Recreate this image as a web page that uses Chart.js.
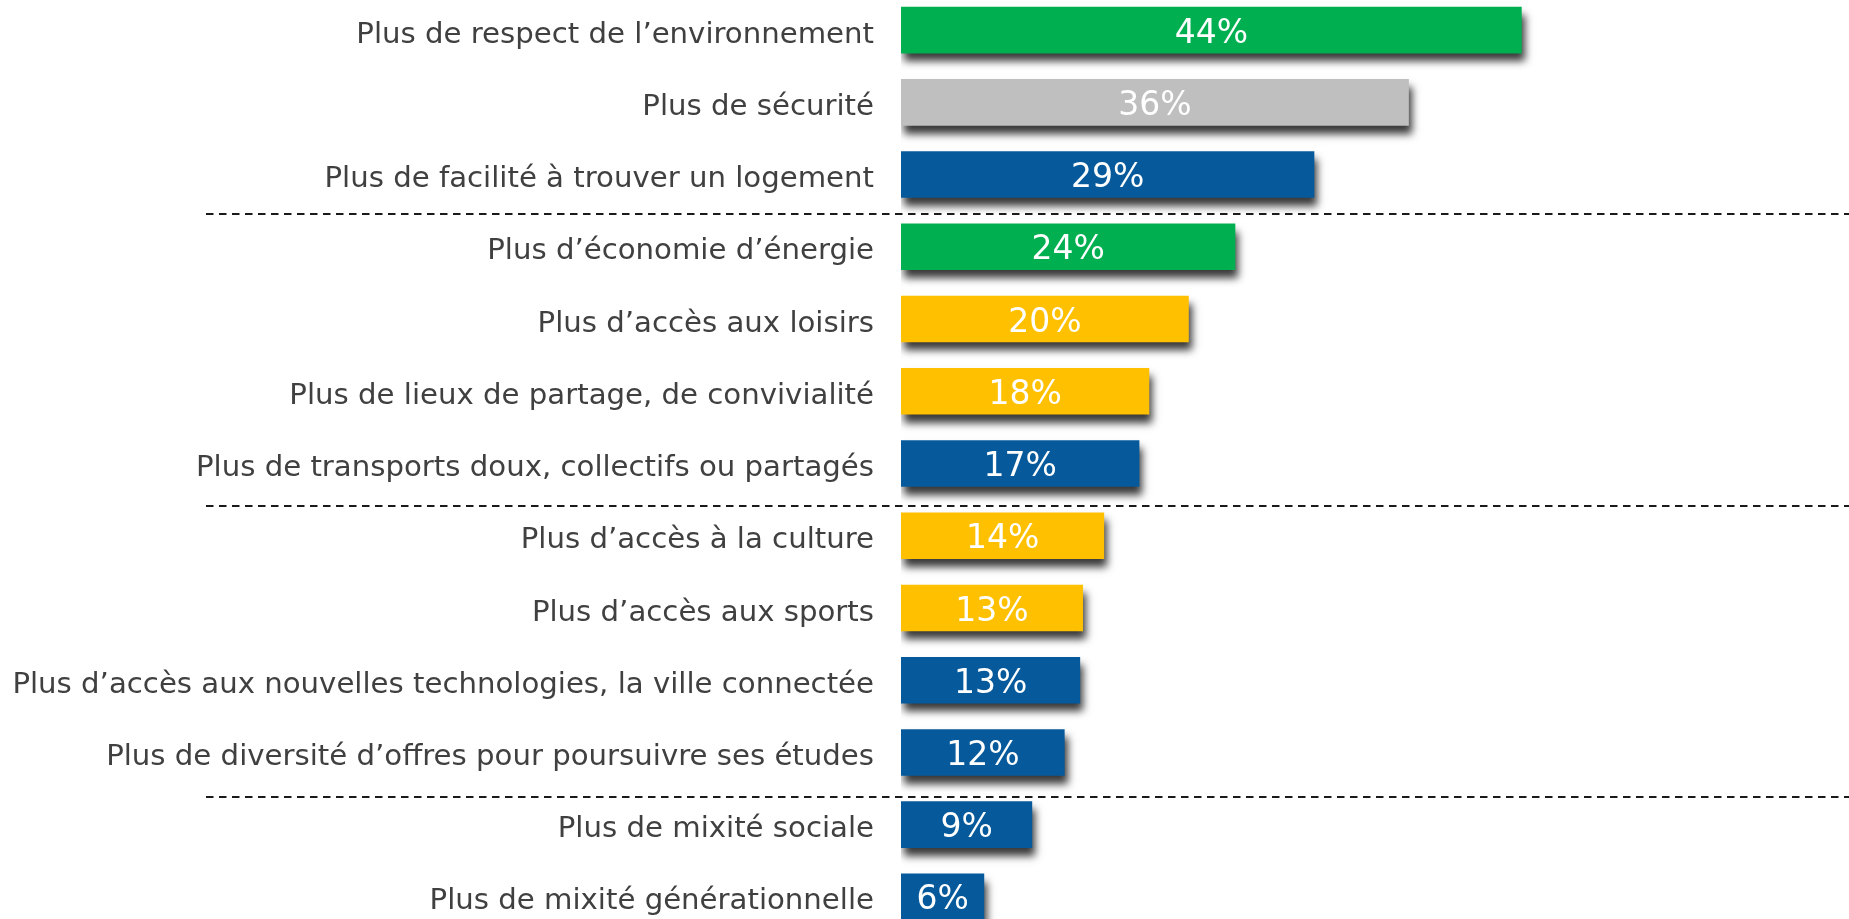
<!DOCTYPE html>
<html lang="fr">
<head>
<meta charset="utf-8">
<title>Attentes</title>
<script src="https://cdn.jsdelivr.net/npm/chart.js@4.4.1/dist/chart.umd.min.js"></script>
<style>
  html, body { margin: 0; padding: 0; background: #ffffff; overflow: hidden; width: 1849px; height: 919px; }
  #wrap { position: absolute; left: 0; top: -6px; width: 1849px; height: 939px; }
</style>
</head>
<body>
<div id="wrap"><canvas id="chart"></canvas></div>
<script>
const categories = [
  "Plus de respect de l\u2019environnement",
  "Plus de sécurité",
  "Plus de facilité à trouver un logement",
  "Plus d\u2019économie d\u2019énergie",
  "Plus d\u2019accès aux loisirs",
  "Plus de lieux de partage, de convivialité",
  "Plus de transports doux, collectifs ou partagés",
  "Plus d\u2019accès à la culture",
  "Plus d\u2019accès aux sports",
  "Plus d\u2019accès aux nouvelles technologies, la ville connectée",
  "Plus de diversité d\u2019offres pour poursuivre ses études",
  "Plus de mixité sociale",
  "Plus de mixité générationnelle"
];
const values = [44.0, 36.0, 29.3, 23.7, 20.4, 17.6, 16.9, 14.4, 12.9, 12.7, 11.6, 9.3, 5.9];
const valueLabels = ["44%", "36%", "29%", "24%", "20%", "18%", "17%", "14%", "13%", "13%", "12%", "9%", "6%"];
const barColors = ["#00B050", "#BFBFBF", "#065A9B", "#00B050", "#FFC000", "#FFC000", "#065A9B",
                   "#FFC000", "#FFC000", "#065A9B", "#065A9B", "#065A9B", "#065A9B"];
const groupDividers = [2.55, 6.59, 10.62];

const shadowPlugin = {
  id: "barShadow",
  beforeDatasetsDraw(chart) {
    const ctx = chart.ctx;
    ctx.save();
    ctx.shadowColor = "rgba(0,0,0,0.78)";
    ctx.shadowBlur = 8;
    ctx.shadowOffsetX = 3;
    ctx.shadowOffsetY = 8;
  },
  afterDatasetsDraw(chart) {
    chart.ctx.restore();
  }
};

const overlayPlugin = {
  id: "overlay",
  afterDatasetsDraw(chart) {
    const ctx = chart.ctx;
    const yScale = chart.scales.y;
    ctx.save();
    ctx.strokeStyle = "#1a1a1a";
    ctx.lineWidth = 2;
    ctx.setLineDash([7.5, 5.5]);
    groupDividers.forEach(v => {
      const y = Math.round(yScale.getPixelForValue(v));
      ctx.beginPath();
      ctx.moveTo(206, y);
      ctx.lineTo(chart.width, y);
      ctx.stroke();
    });
    ctx.restore();
    ctx.save();
    ctx.fillStyle = "#ffffff";
    ctx.font = "33px 'DejaVu Sans'";
    ctx.textAlign = "center";
    ctx.textBaseline = "middle";
    const meta = chart.getDatasetMeta(0);
    meta.data.forEach((bar, i) => {
      const cx = (bar.base + bar.x) / 2;
      ctx.fillText(valueLabels[i], cx, bar.y + 4);
    });
    ctx.restore();
  }
};

new Chart(document.getElementById("chart"), {
  type: "bar",
  data: {
    labels: categories,
    datasets: [{
      data: values,
      backgroundColor: barColors,
      borderWidth: 0,
      barPercentage: 0.645,
      categoryPercentage: 1.0
    }]
  },
  options: {
    indexAxis: "y",
    responsive: true,
    maintainAspectRatio: false,
    animation: false,
    events: [],
    layout: { padding: 0 },
    plugins: {
      legend: { display: false },
      tooltip: { enabled: false },
      title: { display: false }
    },
    scales: {
      x: {
        display: false,
        min: 0,
        max: 67.2
      },
      y: {
        grid: { display: false, drawTicks: false },
        border: { display: false },
        ticks: {
          autoSkip: false,
          color: "#404040",
          padding: 27,
          labelOffset: 5,
          font: { family: "'DejaVu Sans'", size: 29.2 }
        },
        afterFit(scale) {
          scale.width = 901;
          scale.paddingTop = 0;
          scale.paddingBottom = 0;
        }
      }
    }
  },
  plugins: [shadowPlugin, overlayPlugin]
});
</script>
</body>
</html>
